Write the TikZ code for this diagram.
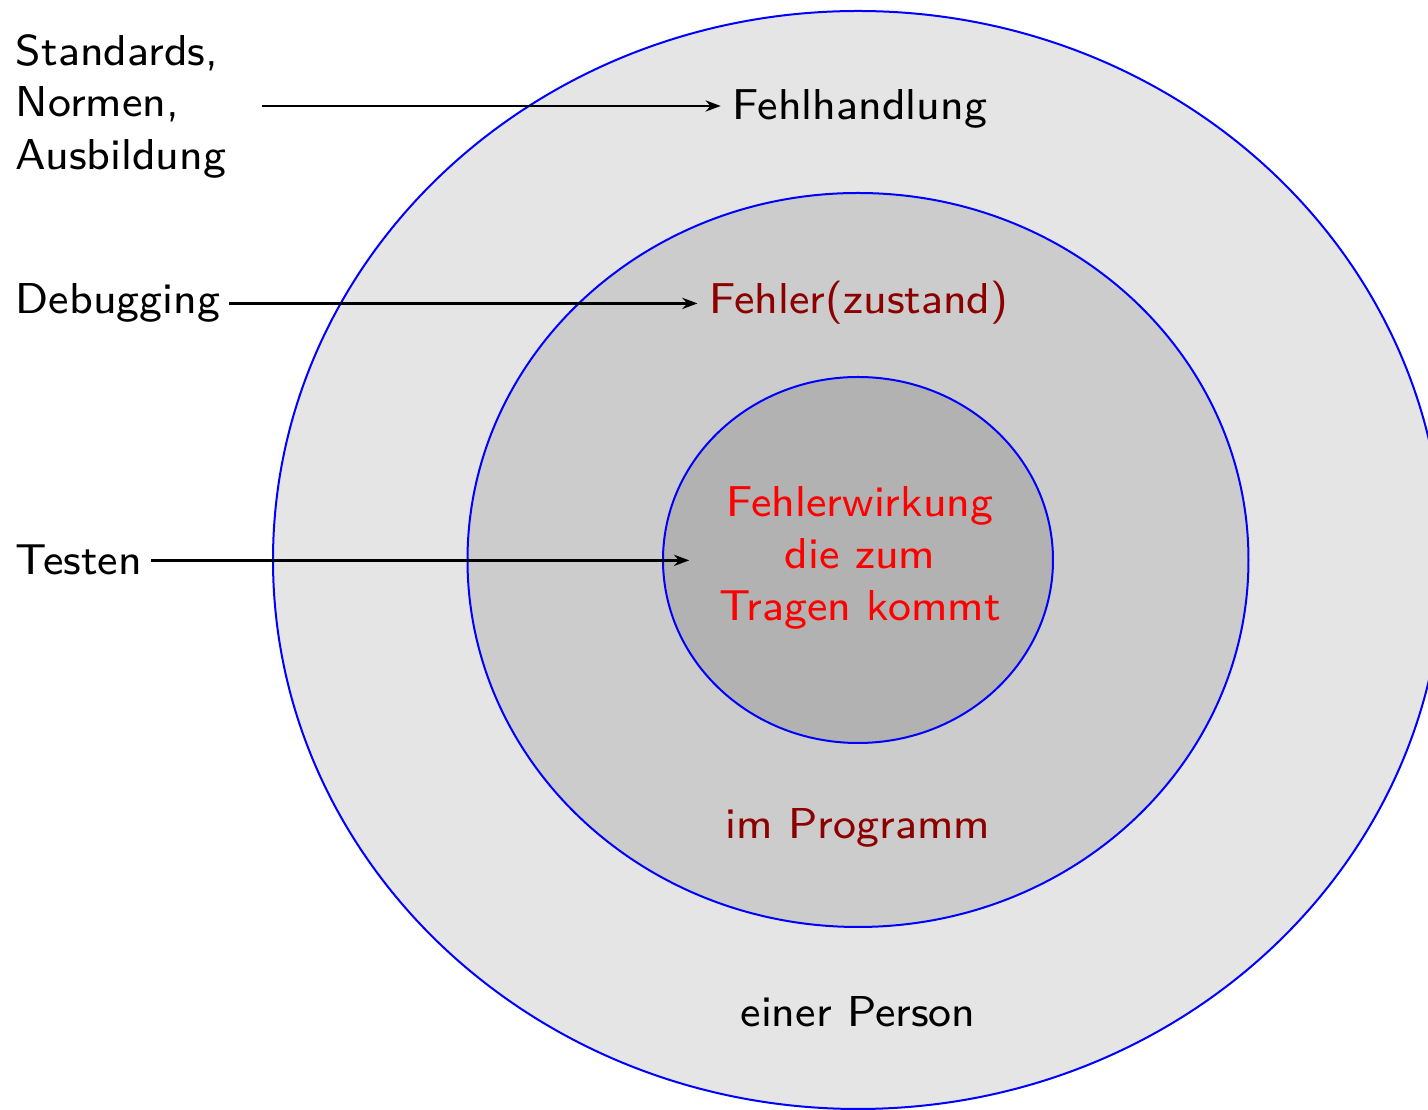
\documentclass[tikz,border=0pt]{standalone}
\usepackage{fontspec}
\newfontfamily\lmsseight{lmsans8-regular.otf}
\usetikzlibrary{shapes.geometric,arrows.meta}
\definecolor{darkred}{RGB}{140,0,0}
\begin{document}
\begin{tikzpicture}[x=0.25pt,y=-0.25pt,
  ring/.style={ellipse, draw=blue, line width=0.5pt, inner sep=0pt},
  lbl/.style={font=\fontsize{10.8}{13}\selectfont\lmsseight, inner sep=2.8pt},
  side/.style={lbl, inner sep=2pt},
  feed/.style={-{Stealth[length=3.8pt,width=2.8pt]}, line width=0.7pt}]
\useasboundingbox (0,0) rectangle (1428,1110);

% nested error layers
\node[ring, fill=black!10, minimum width=292.5pt, minimum height=274.5pt] (outer) at (858,560) {};
\node[ring, fill=black!20, minimum width=195.25pt, minimum height=183.5pt] (middle) at (858,560) {};
\node[ring, fill=black!30, minimum width=97.5pt, minimum height=91.5pt] (inner) at (858,560) {};

% layer captions
\node[lbl, anchor=base] (fehlh) at (860,120) {Fehlhandlung};
\node[lbl, anchor=base, text=darkred] (zust) at (859,314) {Fehler(zustand)};
\node[lbl, align=center, text=red, minimum width=85pt] (wirk) at (860,558) {Fehlerwirkung\\die zum\\Tragen kommt};
\node[lbl, anchor=base, text=darkred] (prog) at (858,839) {im Programm};
\node[lbl, anchor=base] (pers) at (858,1027) {einer Person};

% countermeasures
\node[lbl, align=left, text width=58.4pt, anchor=west] (std) at (4,106) {Standards,\\Normen,\\Ausbildung};
\node[side, anchor=base west] (dbg) at (7,314) {Debugging};
\node[side, anchor=base west] (tst) at (7,575) {Testen};

\draw[feed] (std.east) -- (fehlh.west |- std.east);
\draw[feed] (dbg.east) -- (zust.west |- dbg.east);
\draw[feed] (tst.east) -- (wirk.west |- tst.east);
\end{tikzpicture}
\end{document}
